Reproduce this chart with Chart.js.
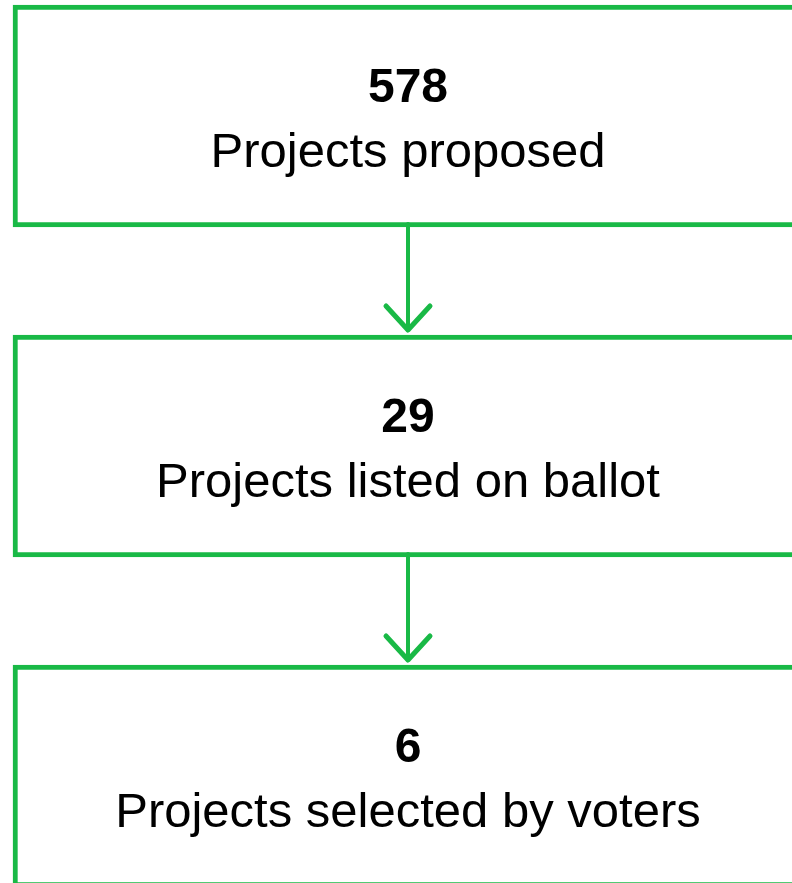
<!DOCTYPE html>
<html>
<head>
<meta charset="utf-8">
<script src="https://cdn.jsdelivr.net/npm/chart.js@4"></script>
<style>
  html, body { margin: 0; padding: 0; background: #fff; }
  canvas { display: block; }
</style>
</head>
<body>
<canvas id="funnelChart" width="792" height="883"></canvas>
<script>
// stages of the participatory budgeting process
const stages = ["Projects proposed", "Projects listed on ballot", "Projects selected by voters"];
const counts = [578, 29, 6];

const GREEN = "#19b946";
const FONT = "'Liberation Sans', Arial, sans-serif";

// boxes span the full width (right edge runs off the page)
const BOX_LEFT = 13;
const BOX_RIGHT = 803;

// arrows between consecutive boxes
const arrowPlugin = {
  id: "arrows",
  afterDatasetsDraw(chart) {
    const bars = chart.getDatasetMeta(0).data;
    const ctx = chart.ctx;
    ctx.save();
    ctx.strokeStyle = GREEN;
    ctx.lineCap = "round";
    ctx.lineJoin = "round";
    for (let i = 0; i < bars.length - 1; i++) {
      const a = bars[i];
      const b = bars[i + 1];
      const x = (a.x + a.base) / 2;
      const y0 = a.y + a.height / 2 - 3;
      const y1 = b.y - b.height / 2 - 5;
      ctx.lineWidth = 4;
      ctx.beginPath();
      ctx.moveTo(x, y0);
      ctx.lineTo(x, y1);
      ctx.stroke();
      ctx.lineWidth = 5;
      ctx.beginPath();
      ctx.moveTo(x - 22, y1 - 24);
      ctx.lineTo(x, y1);
      ctx.lineTo(x + 22, y1 - 24);
      ctx.stroke();
    }
    ctx.restore();
  }
};

// count + label inside each box
const labelPlugin = {
  id: "boxLabels",
  afterDatasetsDraw(chart) {
    const bars = chart.getDatasetMeta(0).data;
    const ctx = chart.ctx;
    ctx.save();
    ctx.fillStyle = "#000";
    ctx.textAlign = "center";
    ctx.textBaseline = "alphabetic";
    bars.forEach((bar, i) => {
      const cx = (bar.x + bar.base) / 2;
      ctx.font = "bold 48px " + FONT;
      ctx.fillText(String(counts[i]), cx, bar.y - 14);
      ctx.font = "49px " + FONT;
      ctx.fillText(stages[i], cx, bar.y + 51);
    });
    ctx.restore();
  }
};

new Chart(document.getElementById("funnelChart"), {
  type: "bar",
  data: {
    labels: stages,
    datasets: [{
      data: stages.map(() => [BOX_LEFT, BOX_RIGHT]),
      backgroundColor: "#ffffff",
      borderColor: GREEN,
      borderWidth: 5,
      borderSkipped: false,
      barThickness: 222,
      clip: false
    }]
  },
  options: {
    indexAxis: "y",
    responsive: false,
    animation: false,
    layout: { padding: { top: 116, bottom: 107, left: 0, right: 0 } },
    scales: {
      x: { type: "linear", min: 0, max: 792, display: false },
      y: { type: "category", offset: false, display: false, grid: { display: false } }
    },
    plugins: {
      legend: { display: false },
      tooltip: { enabled: false }
    }
  },
  plugins: [arrowPlugin, labelPlugin]
});
</script>
</body>
</html>
